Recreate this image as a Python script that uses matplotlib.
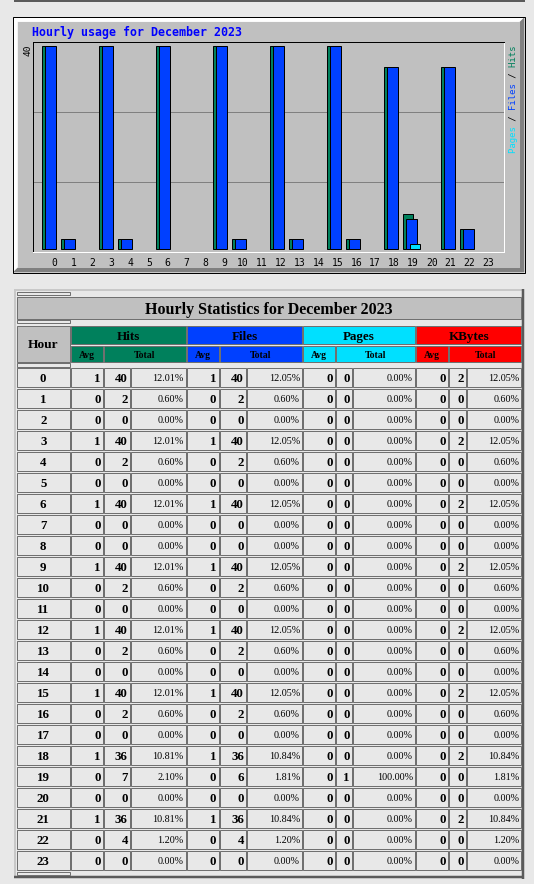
import numpy as np
import matplotlib
matplotlib.use('Agg')
import matplotlib.pyplot as plt
from matplotlib.patches import Rectangle, Polygon

# ---------------- data ----------------
hours = [0, 1, 2, 3, 4, 5, 6, 7, 8, 9, 10, 11, 12, 13, 14, 15, 16, 17, 18, 19, 20, 21, 22, 23]
hits_avg = [1, 0, 0, 1, 0, 0, 1, 0, 0, 1, 0, 0, 1, 0, 0, 1, 0, 0, 1, 0, 0, 1, 0, 0]
hits_total = [40, 2, 0, 40, 2, 0, 40, 0, 0, 40, 2, 0, 40, 2, 0, 40, 2, 0, 36, 7, 0, 36, 4, 0]
hits_pct = ["12.01%", "0.60%", "0.00%", "12.01%", "0.60%", "0.00%", "12.01%", "0.00%",
            "0.00%", "12.01%", "0.60%", "0.00%", "12.01%", "0.60%", "0.00%", "12.01%",
            "0.60%", "0.00%", "10.81%", "2.10%", "0.00%", "10.81%", "1.20%", "0.00%"]
files_avg = [1, 0, 0, 1, 0, 0, 1, 0, 0, 1, 0, 0, 1, 0, 0, 1, 0, 0, 1, 0, 0, 1, 0, 0]
files_total = [40, 2, 0, 40, 2, 0, 40, 0, 0, 40, 2, 0, 40, 2, 0, 40, 2, 0, 36, 6, 0, 36, 4, 0]
files_pct = ["12.05%", "0.60%", "0.00%", "12.05%", "0.60%", "0.00%", "12.05%", "0.00%",
             "0.00%", "12.05%", "0.60%", "0.00%", "12.05%", "0.60%", "0.00%", "12.05%",
             "0.60%", "0.00%", "10.84%", "1.81%", "0.00%", "10.84%", "1.20%", "0.00%"]
pages_avg = [0, 0, 0, 0, 0, 0, 0, 0, 0, 0, 0, 0, 0, 0, 0, 0, 0, 0, 0, 0, 0, 0, 0, 0]
pages_total = [0, 0, 0, 0, 0, 0, 0, 0, 0, 0, 0, 0, 0, 0, 0, 0, 0, 0, 0, 1, 0, 0, 0, 0]
pages_pct = ["0.00%", "0.00%", "0.00%", "0.00%", "0.00%", "0.00%", "0.00%", "0.00%",
             "0.00%", "0.00%", "0.00%", "0.00%", "0.00%", "0.00%", "0.00%", "0.00%",
             "0.00%", "0.00%", "0.00%", "100.00%", "0.00%", "0.00%", "0.00%", "0.00%"]
kbytes_avg = [0, 0, 0, 0, 0, 0, 0, 0, 0, 0, 0, 0, 0, 0, 0, 0, 0, 0, 0, 0, 0, 0, 0, 0]
kbytes_total = [2, 0, 0, 2, 0, 0, 2, 0, 0, 2, 0, 0, 2, 0, 0, 2, 0, 0, 2, 0, 0, 2, 0, 0]
kbytes_pct = ["12.05%", "0.60%", "0.00%", "12.05%", "0.60%", "0.00%", "12.05%", "0.00%",
              "0.00%", "12.05%", "0.60%", "0.00%", "12.05%", "0.60%", "0.00%", "12.05%",
              "0.60%", "0.00%", "10.84%", "1.81%", "0.00%", "10.84%", "1.20%", "0.00%"]

chart_title = "Hourly usage for December 2023"
table_title = "Hourly Statistics for December 2023"
group_names = ["Hits", "Files", "Pages", "KBytes"]

# ---------------- style ----------------
HITC, FILEC, PAGEC, KBC = '#00805C', '#0040FF', '#00E0FF', '#FF0000'
GREY, DKGREY, PAGEBG = '#C0C0C0', '#808080', '#E8E8E8'
PX = 0.72  # points per pixel at 100 dpi
MONO = 'DejaVu Sans Mono'
SERIF = 'Liberation Serif'

W, H = 534, 884
fig = plt.figure(figsize=(W / 100, H / 100), dpi=100)
fig.patch.set_facecolor(PAGEBG)
bg = fig.add_axes([0, 0, 1, 1])
bg.set_xlim(0, W)
bg.set_ylim(H, 0)
bg.axis('off')

def rect(x0, y0, x1, y1, fc, ec='none', lw=0.0, z=1):
    bg.add_patch(Rectangle((x0, y0), x1 - x0, y1 - y0, facecolor=fc,
                           edgecolor=ec, linewidth=lw, zorder=z))

def line(xs, ys, c, lwpx, z=2):
    bg.plot(xs, ys, color=c, linewidth=lwpx * PX, zorder=z, solid_capstyle='butt')

# top line (bottom border of the element above)
line([14.3, 524.5], [1.0, 1.0], '#5A5A5A', 2.0)

# ---------------- chart frame ----------------
x0, y0, x1, y1 = 13.0, 17.3, 524.3, 272.3
bv = 4.5
bg.add_patch(Polygon([(x0, y0), (x1, y0), (x1 - bv, y0 + bv), (x0 + bv, y0 + bv),
                      (x0 + bv, y1 - bv), (x0, y1)], closed=True,
                     facecolor='white', edgecolor='none', zorder=1))
bg.add_patch(Polygon([(x1, y0), (x1, y1), (x0, y1), (x0 + bv, y1 - bv),
                      (x1 - bv, y1 - bv), (x1 - bv, y0 + bv)], closed=True,
                     facecolor=DKGREY, edgecolor='none', zorder=1))
rect(x0 + bv, y0 + bv, x1 - bv, y1 - bv, GREY, z=1)
rect(x0 - 0.5, y0 - 0.5, x1 + 0.5, y1 + 0.5, 'none', 'black', PX, z=2)

bg.text(32.5, 36.0, chart_title, family=MONO, fontweight='bold', fontsize=8.4,
        color='#0000FF', ha='left', va='baseline', zorder=3)

# plot area
PL, PT, PR, PB = 32.7, 41.7, 504.0, 251.7
ax = fig.add_axes([PL / W, 1 - PB / H, (PR - PL) / W, (PB - PT) / H], zorder=3)
ax.set_facecolor(GREY)
xlo, xhi = -0.484, 24.32
ylo, yhi = -0.47, 40.9
ax.set_xlim(xlo, xhi)
ax.set_ylim(ylo, yhi)
for k in (1, 2):
    ax.axhline(ylo + k * (yhi - ylo) / 3, color=DKGREY, linewidth=PX, zorder=1)

h = np.array(hours, dtype=float)
bw = 10.5 / 19
for vals, col, off in ((hits_total, HITC, 0.0), (files_total, FILEC, 3.4 / 19),
                       (pages_total, PAGEC, 6.8 / 19)):
    v = np.array(vals, dtype=float)
    m = v > 0
    ax.bar(h[m] + off, v[m], width=bw, align='edge', color=col,
           edgecolor='black', linewidth=PX, zorder=2)

for s in ('top', 'left'):
    ax.spines[s].set_color('black')
for s in ('bottom', 'right'):
    ax.spines[s].set_color('white')
for s in ax.spines.values():
    s.set_linewidth(PX)
ax.set_yticks([])
ax.set_xticks(h * (18.86 / 19) + 0.663)
ax.set_xticklabels([str(x) for x in hours], family=MONO, fontsize=7, color='black')
ax.tick_params(axis='x', length=0, pad=4.3)

# max value label
bg.text(28.0, 44.3, str(max(hits_total)), family=MONO, fontsize=6.8, rotation=90,
        ha='center', va='top', color='black', zorder=3)

# legend (vertical, multi-coloured)
parts = [("Pages", PAGEC), (" / ", 'black'), ("Files", FILEC), (" / ", 'black'), ("Hits", HITC)]
full = "".join(p for p, _ in parts)
pos = 0
for p, c in parts:
    s = " " * pos + p + " " * (len(full) - pos - len(p))
    pos += len(p)
    bg.text(513.5, 99.7, s, family=MONO, fontsize=6.5, rotation=90, color=c,
            ha='center', va='center', zorder=3)

# ---------------- table ----------------
# outer border
line([14.3, 522.8], [289.5, 289.5], '#C8C8C8', 2.0)
line([14.8, 14.8], [289.0, 877.5], '#C8C8C8', 2.0)
line([14.3, 523.6], [877.3, 877.3], '#5A5A5A', 2.5)
line([522.5, 522.5], [289.0, 878.5], '#5A5A5A', 2.5)

CE = '#707070'

def cell(x0, y0, x1, y1, fc):
    rect(x0, y0, x1, y1, fc, CE, PX, z=2)

HOURC = (16.7, 69.8)
groups = [
    (HITC, (70.8, 102.9), (103.9, 129.8), (131.1, 185.6)),
    (FILEC, (187.0, 218.7), (220.0, 245.9), (247.3, 301.8)),
    (PAGEC, (303.1, 335.1), (336.2, 351.8), (353.2, 414.9)),
    (KBC, (416.2, 447.9), (449.3, 465.6), (467.0, 521.1)),
]

# spacer cells
for (ya, yb) in ((291.7, 295.0), (319.7, 323.3), (363.3, 366.7), (872.3, 875.0)):
    cell(HOURC[0], ya, HOURC[1], yb, PAGEBG)

# title
cell(HOURC[0], 297.3, 521.1, 319.0, GREY)
bg.text((HOURC[0] + 521.1) / 2, 308.3, table_title, family=SERIF, fontweight='bold',
        fontsize=11.5, ha='center', va='center_baseline', zorder=3)

# header
cell(HOURC[0], 325.7, HOURC[1], 361.7, GREY)
bg.text(sum(HOURC) / 2, 343.9, "Hour", family=SERIF, fontweight='bold', fontsize=9.6,
        ha='center', va='center_baseline', zorder=3)
for name, (col, a, t, p) in zip(group_names, groups):
    cell(a[0], 325.7, p[1], 344.3, col)
    bg.text((a[0] + p[1]) / 2, 335.2, name, family=SERIF, fontweight='bold', fontsize=9.4,
            ha='center', va='center_baseline', zorder=3)
    cell(a[0], 346.0, a[1], 361.7, col)
    bg.text((a[0] + a[1]) / 2, 354.0, "Avg", family=SERIF, fontweight='bold', fontsize=7,
            ha='center', va='center_baseline', zorder=3)
    cell(t[0], 346.0, p[1], 361.7, col)
    bg.text((t[0] + p[1]) / 2, 354.0, "Total", family=SERIF, fontweight='bold', fontsize=7,
            ha='center', va='center_baseline', zorder=3)

# data rows
series = [(hits_avg, hits_total, hits_pct), (files_avg, files_total, files_pct),
          (pages_avg, pages_total, pages_pct), (kbytes_avg, kbytes_total, kbytes_pct)]
ROW0, PITCH, RH = 368.3, 21.0, 19.0
for i, hr in enumerate(hours):
    ya = ROW0 + PITCH * i
    yb = ya + RH
    yc = (ya + yb) / 2
    cell(HOURC[0], ya, HOURC[1], yb, PAGEBG)
    bg.text(sum(HOURC) / 2, yc, str(hr), family=SERIF, fontweight='bold', fontsize=9.3,
            ha='center', va='center_baseline', zorder=3)
    for (avg, tot, pct), (col, a, t, p) in zip(series, groups):
        cell(a[0], ya, a[1], yb, PAGEBG)
        cell(t[0], ya, t[1], yb, PAGEBG)
        cell(p[0], ya, p[1], yb, PAGEBG)
        bg.text(a[1] - 2.2, yc, str(avg[i]), family=SERIF, fontweight='bold', fontsize=9.3,
                ha='right', va='center_baseline', zorder=3)
        bg.text(t[1] - 2.0, yc, str(tot[i]), family=SERIF, fontweight='bold', fontsize=9.3,
                ha='right', va='center_baseline', zorder=3)
        bg.text(p[1] - 1.8, yc, pct[i], family=SERIF, fontsize=7.3,
                ha='right', va='center_baseline', zorder=3)

fig.savefig('out.png', dpi=100, facecolor=fig.get_facecolor())
